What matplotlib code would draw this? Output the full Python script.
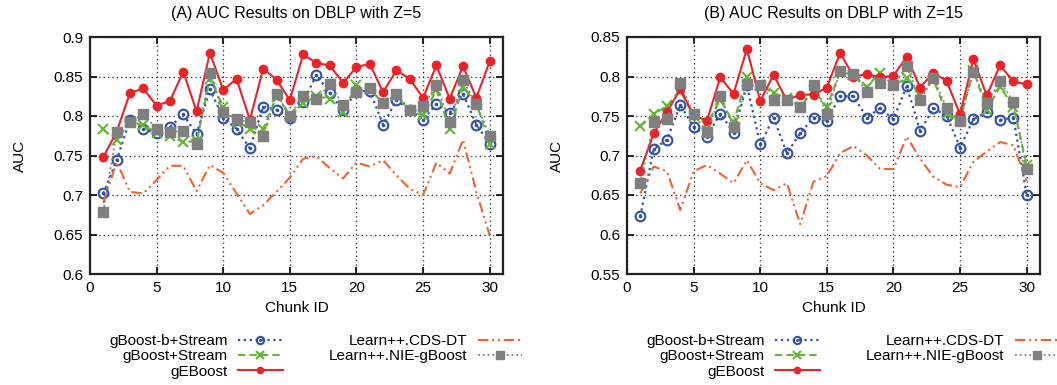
import matplotlib
matplotlib.use("Agg")
import matplotlib.pyplot as plt
from matplotlib.legend_handler import HandlerTuple

plt.rcParams['font.family'] = ['Liberation Sans', 'DejaVu Sans']

chunks = list(range(1, 31))
labels = ["gBoost-b+Stream", "gBoost+Stream", "gEBoost", "Learn++.CDS-DT", "Learn++.NIE-gBoost"]

# (A) Z=5
left_bstream = [0.702, 0.744, 0.795, 0.784, 0.778, 0.786, 0.802, 0.777, 0.834, 0.797, 0.784, 0.759, 0.812, 0.808, 0.798,
                0.818, 0.852, 0.829, 0.807, 0.831, 0.832, 0.789, 0.820, 0.808, 0.795, 0.815, 0.804, 0.828, 0.789, 0.765]
left_stream = [0.783, 0.769, 0.793, 0.788, 0.779, 0.775, 0.767, 0.768, 0.847, 0.812, 0.793, 0.784, 0.784, 0.824, 0.803,
               0.816, 0.825, 0.822, 0.805, 0.839, 0.834, 0.816, 0.826, 0.806, 0.801, 0.833, 0.783, 0.837, 0.816, 0.765]
left_geboost = [0.748, 0.780, 0.829, 0.835, 0.813, 0.819, 0.856, 0.806, 0.880, 0.833, 0.847, 0.795, 0.860, 0.846, 0.820,
                0.878, 0.867, 0.864, 0.842, 0.862, 0.866, 0.830, 0.858, 0.847, 0.823, 0.864, 0.822, 0.863, 0.823, 0.869]
left_cds = [0.690, 0.742, 0.704, 0.702, 0.719, 0.737, 0.737, 0.705, 0.738, 0.728, 0.702, 0.676, 0.687, 0.704, 0.722,
            0.746, 0.749, 0.734, 0.721, 0.741, 0.736, 0.744, 0.725, 0.708, 0.700, 0.741, 0.727, 0.770, 0.704, 0.649]
left_nie = [0.679, 0.780, 0.792, 0.803, 0.783, 0.780, 0.781, 0.764, 0.855, 0.805, 0.796, 0.792, 0.775, 0.828, 0.800,
            0.825, 0.822, 0.840, 0.814, 0.831, 0.836, 0.816, 0.828, 0.808, 0.813, 0.839, 0.792, 0.845, 0.815, 0.775]

# (B) Z=15
right_bstream = [0.623, 0.708, 0.720, 0.764, 0.736, 0.724, 0.753, 0.729, 0.789, 0.714, 0.748, 0.703, 0.728, 0.748, 0.744,
                 0.775, 0.775, 0.748, 0.760, 0.746, 0.788, 0.731, 0.760, 0.750, 0.710, 0.746, 0.755, 0.745, 0.748, 0.650]
right_stream = [0.737, 0.752, 0.763, 0.782, 0.750, 0.740, 0.770, 0.742, 0.799, 0.789, 0.779, 0.773, 0.761, 0.783, 0.762,
                0.806, 0.802, 0.787, 0.805, 0.789, 0.798, 0.777, 0.796, 0.753, 0.745, 0.808, 0.758, 0.787, 0.762, 0.688]
right_geboost = [0.681, 0.728, 0.755, 0.784, 0.751, 0.744, 0.799, 0.778, 0.835, 0.769, 0.802, 0.770, 0.777, 0.777, 0.786,
                 0.830, 0.800, 0.803, 0.799, 0.801, 0.825, 0.786, 0.805, 0.794, 0.752, 0.822, 0.776, 0.814, 0.794, 0.790]
right_cds = [0.652, 0.686, 0.680, 0.631, 0.680, 0.688, 0.677, 0.665, 0.694, 0.665, 0.656, 0.665, 0.613, 0.667, 0.674,
             0.703, 0.712, 0.700, 0.683, 0.683, 0.724, 0.696, 0.673, 0.663, 0.660, 0.692, 0.705, 0.717, 0.713, 0.668]
right_nie = [0.665, 0.742, 0.746, 0.792, 0.752, 0.730, 0.775, 0.736, 0.791, 0.789, 0.770, 0.770, 0.761, 0.789, 0.753,
             0.807, 0.803, 0.781, 0.792, 0.789, 0.813, 0.770, 0.798, 0.760, 0.744, 0.806, 0.767, 0.794, 0.768, 0.683]

BLUE = '#2f4fae'
GREEN = '#62b832'
RED = '#ec2227'
ORANGE = '#f2622e'
GRAY = '#7f7f7f'


def draw_panel(ax, series, title, ylim, yticks, legend_x):
    b, g, r, o, n = series
    h1, = ax.plot(chunks, b, color=BLUE, ls=':', lw=1.6, marker='o', ms=7, mfc='none', mew=1.5)
    h1d, = ax.plot(chunks, b, color=BLUE, ls='none', marker='.', ms=3)
    h2, = ax.plot(chunks, g, color=GREEN, ls='--', lw=1.5, marker='x', ms=7, mew=1.5, dashes=(3.5, 2))
    h3, = ax.plot(chunks, r, color=RED, ls='-', lw=1.5, marker='o', ms=6)
    h4, = ax.plot(chunks, o, color=ORANGE, lw=1.5, dashes=(5, 1.8, 1, 1.8, 1, 1.8))
    h5, = ax.plot(chunks, n, color=GRAY, ls=':', lw=1.3, marker='s', ms=7)

    ax.set_xlim(0, 31)
    ax.set_ylim(*ylim)
    ax.set_xticks([0, 5, 10, 15, 20, 25, 30])
    ax.set_yticks(yticks)
    ax.set_yticklabels([('%.2f' % v).rstrip('0') for v in yticks])
    ax.grid(True, color='#222222', ls=(0, (1, 2.5)), lw=0.9)
    ax.tick_params(direction='in', top=True, right=True, length=5, width=1.2, labelsize=11, pad=5)
    for sp in ax.spines.values():
        sp.set_linewidth(1.6)
        sp.set_color('#222222')
    ax.set_title(title, fontsize=11.5, pad=14)
    ax.set_xlabel("Chunk ID", fontsize=11, labelpad=4)
    ax.set_ylabel("AUC", fontsize=11, labelpad=19)

    fig.legend([(h1, h1d), h2, h3, h4, h5], labels, ncol=2, markerfirst=False, frameon=False,
               loc='upper left', bbox_to_anchor=(legend_x, 1 - 334 / 385), fontsize=11,
               handlelength=2.9, handletextpad=0.7, labelspacing=0.09, columnspacing=3.0,
               borderpad=0, borderaxespad=0, numpoints=1, markerscale=0.75,
               handler_map={tuple: HandlerTuple(ndivide=1)})


fig = plt.figure(figsize=(10.57, 3.85), dpi=100)
ax1 = fig.add_axes([90 / 1057, 1 - 274 / 385, 413 / 1057, 237 / 385])
ax2 = fig.add_axes([627 / 1057, 1 - 274 / 385, 413 / 1057, 237 / 385])

draw_panel(ax1, [left_bstream, left_stream, left_geboost, left_cds, left_nie],
           "(A) AUC Results on DBLP with Z=5", (0.6, 0.9),
           [0.6, 0.65, 0.7, 0.75, 0.8, 0.85, 0.9], 109 / 1057)
draw_panel(ax2, [right_bstream, right_stream, right_geboost, right_cds, right_nie],
           "(B) AUC Results on DBLP with Z=15", (0.55, 0.85),
           [0.55, 0.6, 0.65, 0.7, 0.75, 0.8, 0.85], 646 / 1057)

fig.savefig("out.png", dpi=100)
